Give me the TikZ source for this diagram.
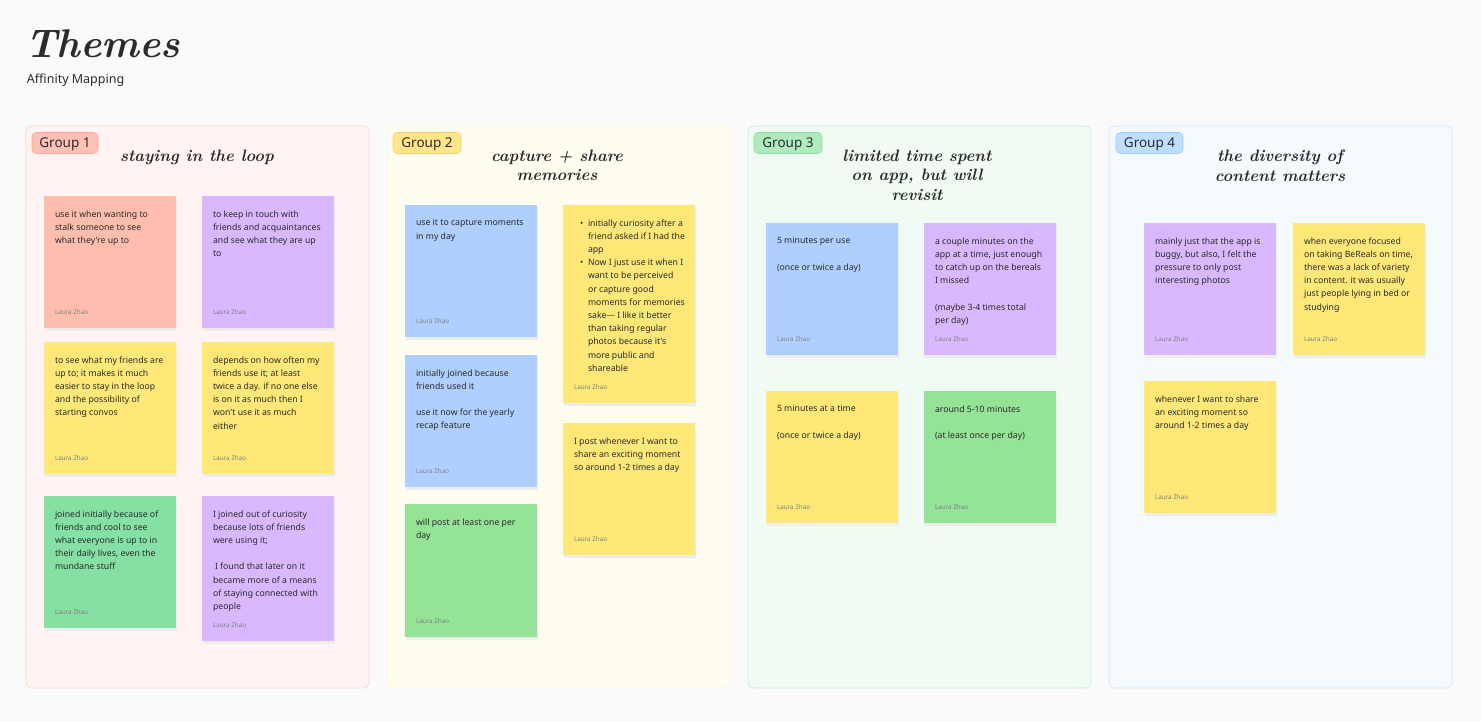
\documentclass[tikz,border=0pt]{standalone}
\usepackage{fontspec}
\newfontfamily\sans{Noto Sans}
\definecolor{bg}{HTML}{FAFAFA}
\definecolor{txt}{HTML}{2B2B2B}
\definecolor{salmon}{HTML}{FFBDAD}
\definecolor{lilac}{HTML}{D9B8FF}
\definecolor{sun}{HTML}{FFE878}
\definecolor{mint}{HTML}{85E0A3}
\definecolor{lime}{HTML}{94E397}
\definecolor{sky}{HTML}{AFCFFF}
\definecolor{fA}{HTML}{FFF4F3}\definecolor{bA}{HTML}{FFD5D2}
\definecolor{fB}{HTML}{FFFCF0}\definecolor{bB}{HTML}{FFF5DC}
\definecolor{fC}{HTML}{F0FCF3}\definecolor{bC}{HTML}{C9F0D5}
\definecolor{fD}{HTML}{F5FAFF}\definecolor{bD}{HTML}{D3E9FF}
\definecolor{pA}{HTML}{FFC0B5}\definecolor{qA}{HTML}{FFA49A}
\definecolor{pB}{HTML}{FFE68A}\definecolor{qB}{HTML}{F2CD6C}
\definecolor{pC}{HTML}{AFEBBF}\definecolor{qC}{HTML}{8BDB9F}
\definecolor{pD}{HTML}{BFDFFF}\definecolor{qD}{HTML}{98C9FF}
\newcommand\notefont{\sans\fontsize{8.7}{13.2}\selectfont}
\newcommand\bul{\makebox[14pt][l]{\hspace{6pt}\textbullet}}
\newcommand\ind{\hspace*{14pt}}
% name, x, y, height, colour, text
\newcommand\stickynote[6]{%
  \fill[black!7] (#2+1,#3+2.5) rectangle ++(132,#4);
  \node[fill=#5, anchor=north west, minimum width=132pt, minimum height=#4pt] (#1) at (#2,#3) {};
  \node[notetext] (#1t) at ([xshift=11pt, yshift=-14.5pt]#1.north west) {#6};
  \node[author] (#1a) at ([xshift=11pt, yshift=13.5pt]#1.south west) {Laura Zhao};
}
\begin{document}
\begin{tikzpicture}[x=1pt,y=-1pt,
  every node/.style={inner sep=0pt, outer sep=0pt},
  notetext/.style={anchor=north west, align=left, font=\notefont, text=txt},
  author/.style={anchor=base west, font=\sans\fontsize{6.3}{8}\selectfont, text=black!50},
  frame/.style={rounded corners=6pt, line width=0.8pt},
  pill/.style={rounded corners=4.5pt, line width=0.6pt, anchor=north west, minimum height=21pt, text depth=0pt, text height=10pt, font=\sans\fontsize{13.5}{16}\selectfont, text=txt},
  heading/.style={anchor=north, align=center, font=\rmfamily\itshape\bfseries\fontsize{16.5}{19.5}\selectfont, text=txt}]
\useasboundingbox (0,0) rectangle (1481,722);
\fill[bg] (0,0) rectangle (1481,722);
% title
\node[anchor=base west, font=\rmfamily\itshape\bfseries\fontsize{40}{40}\selectfont, text=txt] (title) at (25,58) {Themes};
\node[anchor=base west, font=\sans\fontsize{12.5}{15}\selectfont, text=txt] (subtitle) at (27,83.5) {Affinity Mapping};
% group frames
\filldraw[frame, fill=fA, draw=bA] (26,126) rectangle (369,688);
\filldraw[frame, fill=fB, draw=bB] (388,126) rectangle (730,688);
\filldraw[frame, fill=fC, draw=bC] (748,126) rectangle (1091,688);
\filldraw[frame, fill=fD, draw=bD] (1109,126) rectangle (1452,688);
% pills
\node[pill, fill=pA, draw=qA, minimum width=66pt] (g1) at (32,132.5) {Group 1};
\node[pill, fill=pB, draw=qB, minimum width=68pt] (g2) at (393,132.5) {Group 2};
\node[pill, fill=pC, draw=qC, minimum width=68pt] (g3) at (754,132.5) {Group 3};
\node[pill, fill=pD, draw=qD, minimum width=67pt] (g4) at (1116,132.5) {Group 4};
% headings
\node[heading] (h1) at (197,150) {staying in the loop};
\node[heading] (h2) at (557,150) {capture + share\\memories};
\node[heading] (h3) at (917,150) {limited time spent\\on app, but will\\revisit};
\node[heading] (h4) at (1280,150) {the diversity of\\content matters};
% group 1
\stickynote{a1}{44}{196}{132}{salmon}{use it when wanting to\\stalk someone to see\\what they're up to}
\stickynote{a2}{202}{196}{132}{lilac}{to keep in touch with\\friends and acquaintances\\and see what they are up\\to}
\stickynote{a3}{44}{342}{132}{sun}{to see what my friends are\\up to; it makes it much\\easier to stay in the loop\\and the possibility of\\starting convos}
\stickynote{a4}{202}{342}{132}{sun}{depends on how often my\\friends use it; at least\\twice a day. if no one else\\is on it as much then I\\won't use it as much\\either}
\stickynote{a5}{44}{496}{132}{mint}{joined initially because of\\friends and cool to see\\what everyone is up to in\\their daily lives, even the\\mundane stuff}
\stickynote{a6}{202}{496}{145}{lilac}{I joined out of curiosity\\because lots of friends\\were using it;\\[13.2pt]\hspace*{2pt}I found that later on it\\became more of a means\\of staying connected with\\people}
% group 2
\stickynote{b1}{405}{205}{132}{sky}{use it to capture moments\\in my day}
\stickynote{b2}{405}{355}{132}{sky}{initially joined because\\friends used it\\[13.2pt]use it now for the yearly\\recap feature}
\stickynote{b3}{405}{504}{133}{lime}{will post at least one per\\day}
\stickynote{b4}{563}{205}{198}{sun}{\bul initially curiosity after a\\\ind friend asked if I had the\\\ind app\\\bul Now I just use it when I\\\ind want to be perceived\\\ind or capture good\\\ind moments for memories\\\ind sake--- I like it better\\\ind than taking regular\\\ind photos because it's\\\ind more public and\\\ind shareable}
\stickynote{b5}{563}{423}{132}{sun}{I post whenever I want to\\share an exciting moment\\so around 1-2 times a day}
% group 3
\stickynote{c1}{766}{223}{132}{sky}{5 minutes per use\\[13.2pt](once or twice a day)}
\stickynote{c2}{924}{223}{132}{lilac}{a couple minutes on the\\app at a time, just enough\\to catch up on the bereals\\I missed\\[13.2pt](maybe 3-4 times total\\per day)}
\stickynote{c3}{766}{391}{132}{sun}{5 minutes at a time\\[13.2pt](once or twice a day)}
\stickynote{c4}{924}{391}{132}{lime}{around 5-10 minutes\\[13.2pt](at least once per day)}
% group 4
\stickynote{d1}{1144}{223}{132}{lilac}{mainly just that the app is\\buggy, but also, I felt the\\pressure to only post\\interesting photos}
\stickynote{d2}{1293}{223}{132}{sun}{when everyone focused\\on taking BeReals on time,\\there was a lack of variety\\in content. it was usually\\just people lying in bed or\\studying}
\stickynote{d3}{1144}{381}{132}{sun}{whenever I want to share\\an exciting moment so\\around 1-2 times a day}
\end{tikzpicture}
\end{document}
